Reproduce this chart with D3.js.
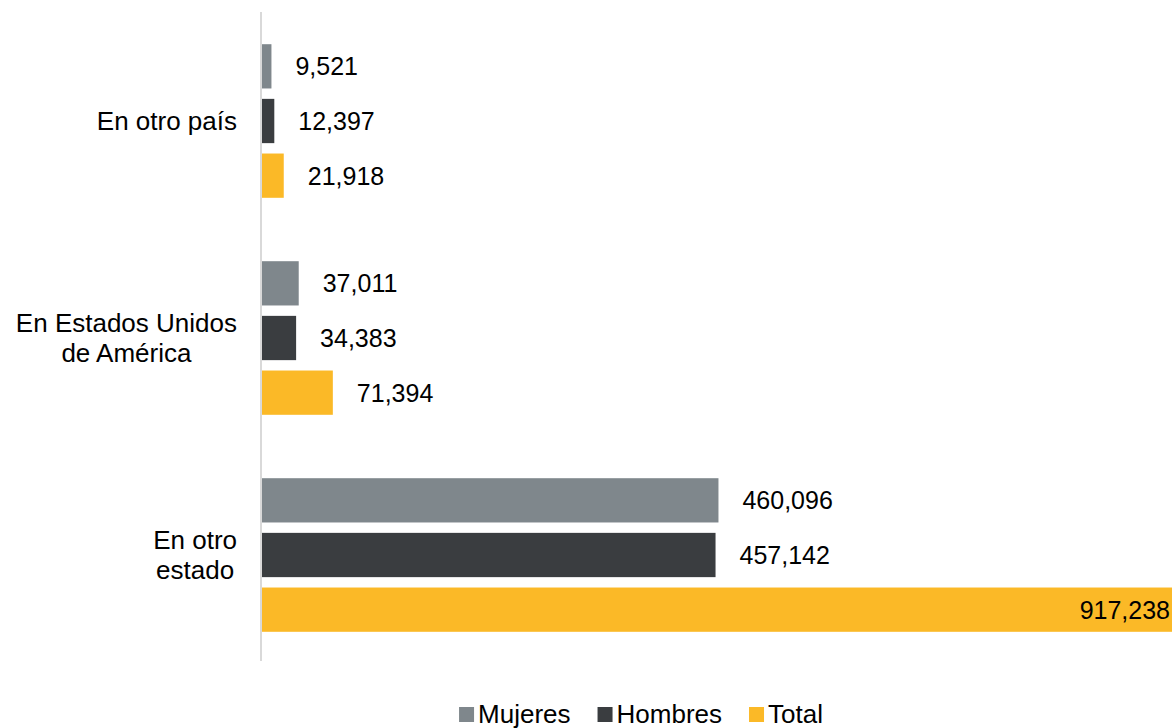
<!DOCTYPE html>
<html>
<head>
<meta charset="utf-8">
<script src="https://cdn.jsdelivr.net/npm/d3@7"></script>
<style>
  body { margin: 0; background: #fff; }
  text { font-family: "Liberation Sans", Arial, sans-serif; fill: #000; }
</style>
</head>
<body>
<script>
// data
var categories = ["En otro país", "En Estados Unidos de América", "En otro estado"];
var categoryLines = [["En otro país"], ["En Estados Unidos", "de América"], ["En otro", "estado"]];
var seriesNames = ["Mujeres", "Hombres", "Total"];
var mujeres = [9521, 37011, 460096];
var hombres = [12397, 34383, 457142];
var total = [21918, 71394, 917238];
var seriesColors = ["#7f878c", "#3a3d40", "#fbb927"];

var svgWidth = 1176;
var svgHeight = 728;

var svg = d3.select("body")
  .append("svg")
  .attr("width", svgWidth)
  .attr("height", svgHeight);

var rows = categories.map(function(c, i) {
  return { cat: c, values: [mujeres[i], hombres[i], total[i]] };
});

var yScale = d3.scaleBand()
  .domain(categories)
  .range([12.5, 663.5])
  .padding(0);

var ySub = d3.scaleBand()
  .domain(seriesNames)
  .range([0, yScale.bandwidth()])
  .paddingInner(0.19)
  .paddingOuter(0.58);

var xScale = d3.scaleLinear()
  .domain([0, d3.max(total)])
  .range([262, 1172]);

var fmt = d3.format(",");

// axis line
svg.append("line")
  .attr("x1", 261).attr("x2", 261)
  .attr("y1", 12).attr("y2", 661)
  .attr("stroke", "#d9d9d9")
  .attr("stroke-width", 2);

var groups = svg.selectAll("g.group").data(rows).enter()
  .append("g")
  .attr("class", "group")
  .attr("transform", d => `translate(0, ${yScale(d.cat)})`);

var cells = groups.selectAll("g.cell")
  .data(d => d.values.map((v, j) => ({ name: seriesNames[j], value: v, j: j })))
  .enter().append("g").attr("class", "cell");

cells.append("rect")
  .attr("x", xScale(0))
  .attr("y", d => ySub(d.name))
  .attr("width", d => xScale(d.value) - xScale(0))
  .attr("height", ySub.bandwidth())
  .attr("fill", d => seriesColors[d.j]);

var maxVal = d3.max(total);
cells.append("text")
  .attr("x", d => d.value === maxVal ? xScale(d.value) - 2 : xScale(d.value) + 24)
  .attr("y", d => ySub(d.name) + ySub.bandwidth() / 2)
  .attr("dy", "0.36em")
  .attr("text-anchor", d => d.value === maxVal ? "end" : "start")
  .attr("font-size", 25)
  .text(d => fmt(d.value));

// category labels, centred lines in a right-aligned block
categories.forEach(function(c, i) {
  var lines = categoryLines[i];
  var g = svg.append("g");
  var texts = g.selectAll("text").data(lines).enter().append("text")
    .attr("font-size", 26)
    .attr("text-anchor", "middle")
    .text(d => d);
  var maxW = d3.max(texts.nodes(), n => n.getComputedTextLength());
  var cx = 237 - maxW / 2;
  var cy = yScale(c) + yScale.bandwidth() / 2;
  var lh = 30;
  texts.attr("x", cx)
    .attr("y", (d, k) => cy + (k - (lines.length - 1) / 2) * lh)
    .attr("dy", "0.35em");
});

// legend
var legend = svg.append("g");
var lx = 0;
seriesNames.forEach(function(name, i) {
  var item = legend.append("g").attr("transform", `translate(${lx}, 0)`);
  item.append("rect")
    .attr("x", 0).attr("y", 707)
    .attr("width", 15).attr("height", 15)
    .attr("fill", seriesColors[i]);
  var t = item.append("text")
    .attr("x", 19).attr("y", 723)
    .attr("font-size", 26)
    .text(name);
  lx += 19 + t.node().getComputedTextLength() + 27;
});
var legendW = lx - 27;
legend.attr("transform", `translate(${641 - legendW / 2}, 0)`);
</script>
</body>
</html>
